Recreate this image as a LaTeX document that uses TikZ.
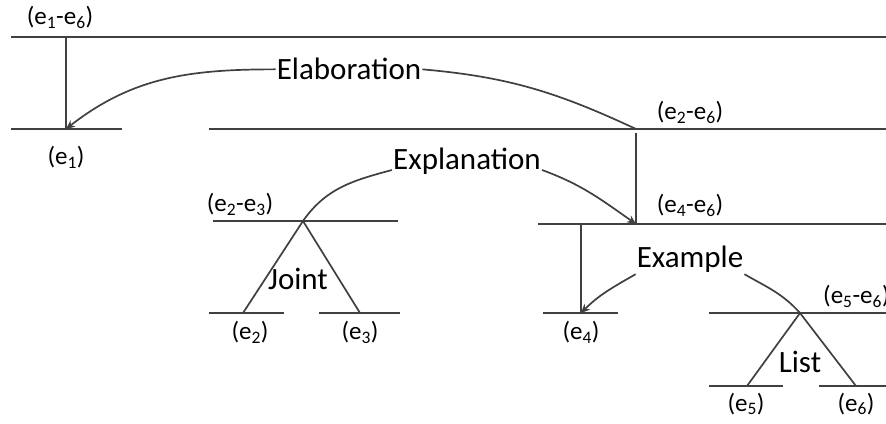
\documentclass[tikz,border=0pt]{standalone}
\usepackage{fontspec}
\setmainfont{Carlito}
\usepackage{xcolor}
\usetikzlibrary{arrows.meta}
\definecolor{rstgray}{RGB}{64,64,64}
\tikzset{
  span/.style={draw=rstgray, line width=1.7pt},
  link/.style={draw=rstgray, line width=1.7pt},
  linkarr/.style={link, -{Stealth[length=9pt,width=8pt]}},
  rel/.style={font=\fontsize{31}{37}\selectfont, inner sep=1pt},
  lab/.style={font=\fontsize{25}{30}\selectfont, inner sep=0pt},
}

\begin{document}
\begin{tikzpicture}[x=1pt,y=1pt]
\useasboundingbox (0,0) rectangle (886,423);
% horizontal span lines
\foreach \nm/\xa/\xb/\yy in {a16/11/886/386, a1/11/122/294, a26/209/886/294,
  a23/213/398/202, a2/209/284/110, a3/319/400/110, a46/538/886/199,
  a4/543/618/110, a56/709/886/110, a5/709/783/37, a6/819/886/37} {
  \coordinate (\nm-w) at (\xa,\yy);
  \coordinate (\nm-e) at (\xb,\yy);
  \draw[span] (\nm-w) -- (\nm-e);
}
% span labels
\node[lab, anchor=base] (l16) at (60,398) {(e\textsubscript{1}-e\textsubscript{6})};
\node[lab, anchor=base] (l1) at (66,258) {(e\textsubscript{1})};
\node[lab, anchor=base] (l26) at (690,303) {(e\textsubscript{2}-e\textsubscript{6})};
\node[lab, anchor=base] (l23) at (240,211) {(e\textsubscript{2}-e\textsubscript{3})};
\node[lab, anchor=base] (l2) at (250,83) {(e\textsubscript{2})};
\node[lab, anchor=base] (l3) at (360,83) {(e\textsubscript{3})};
\node[lab, anchor=base] (l46) at (690,210) {(e\textsubscript{4}-e\textsubscript{6})};
\node[lab, anchor=base] (l4) at (581,83) {(e\textsubscript{4})};
\node[lab, anchor=base west] (l56) at (823,119) {(e\textsubscript{5}-e\textsubscript{6})};
\node[lab, anchor=base] (l5) at (746,12) {(e\textsubscript{5})};
\node[lab, anchor=base] (l6) at (856,12) {(e\textsubscript{6})};
% relation labels
\node[rel, anchor=base] (elab) at (349,343) {Elaboration};
\node[rel, anchor=base] (expl) at (467,253) {Explanation};
\node[rel, anchor=base] (exmp) at (690,155) {Example};
\node[rel, anchor=base] (joint) at (298,133) {Joint};
\node[rel, anchor=base] (list) at (800,50) {List};
% nucleus stems and multinuclear feet
\coordinate (top1) at (66,386);   \coordinate (tip1) at (66,294);
\coordinate (top26) at (636,290); \coordinate (tip26) at (636,199);
\coordinate (top46) at (581,199); \coordinate (tip46) at (581,110);
\coordinate (apx23) at (303,202); \coordinate (ft2) at (243,110); \coordinate (ft3) at (360,110);
\coordinate (apx56) at (800,110); \coordinate (ft5) at (747,37);  \coordinate (ft6) at (856,37);
\draw[link] (top1) -- (tip1);
\draw[link] (top26) -- (tip26);
\draw[link] (top46) -- (tip46);
\draw[link] (ft2) -- (apx23) -- (ft3);
\draw[link] (ft5) -- (apx56) -- (ft6);
% relation arcs
\draw[linkarr] (elab.west) to[out=180, in=38] (tip1);
\draw[link] (elab.east) to[out=-5, in=155] (a26-w -| top26);
\draw[link] (expl.base west) to[out=195, in=55] (apx23);
\draw[linkarr] (expl.base east) to[out=-20, in=145] (tip26);
\draw[linkarr] (exmp.south west) to[out=210, in=45] (tip46);
\draw[link] (exmp.south east) to[out=-30, in=132] (apx56);
\end{tikzpicture}
\end{document}
